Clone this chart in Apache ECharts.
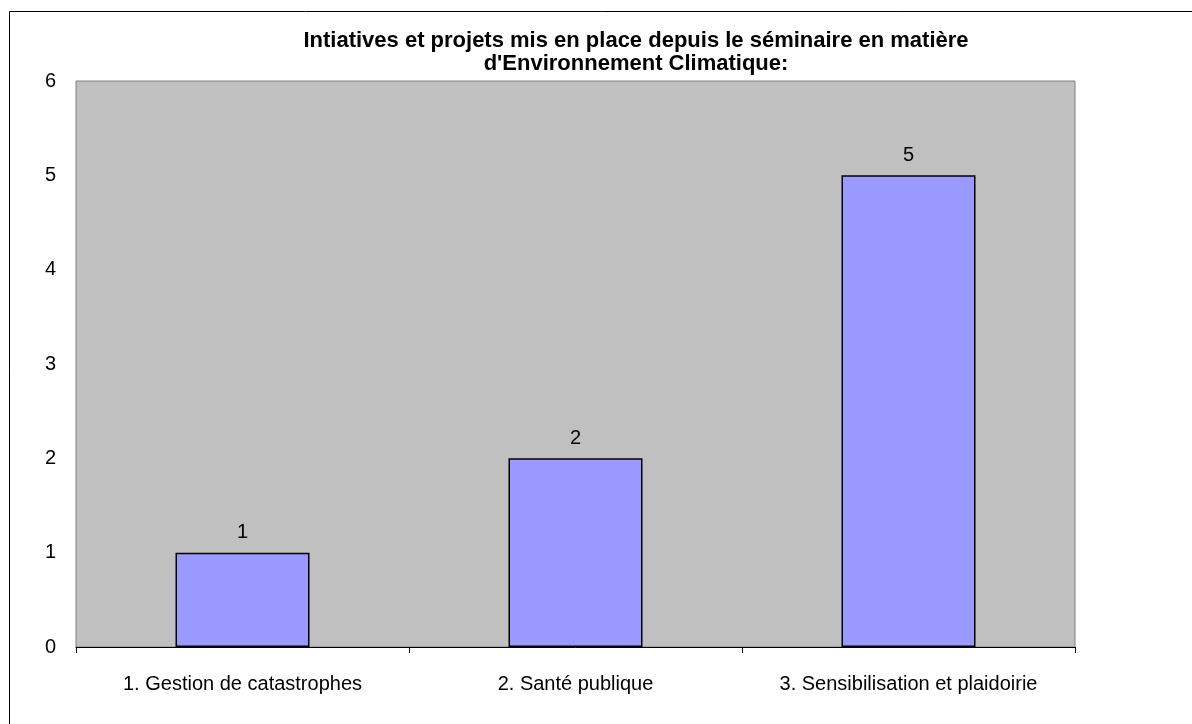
<!DOCTYPE html>
<html>
<head>
<meta charset="utf-8">
<script src="https://cdn.jsdelivr.net/npm/echarts@6/dist/echarts.min.js"></script>
<style>html,body{margin:0;padding:0;background:#fff;}#c{width:1192px;height:724px;}</style>
</head>
<body>
<div id="c"></div>
<script>
const categories = ['1. Gestion de catastrophes', '2. Santé publique', '3. Sensibilisation et plaidoirie'];
const values = [1, 2, 5];
const titleLines = ['Intiatives et projets mis en place depuis le séminaire en matière', "d'Environnement Climatique:"];

const chart = echarts.init(document.getElementById('c'), null, {renderer: 'canvas'});
const font = 'Liberation Sans, Arial, sans-serif';
chart.setOption({
  animation: false,
  backgroundColor: '#ffffff',
  title: {
    text: titleLines.join('\n'),
    left: 631, top: 24, textAlign: 'center',
    textStyle: {fontFamily: font, fontSize: 22, fontWeight: 'bold', color: '#000', lineHeight: 23}
  },
  graphic: [{
    type: 'rect', shape: {x: 9.5, y: 11.5, width: 1300, height: 900},
    style: {fill: 'none', stroke: '#000', lineWidth: 1}, z: 100
  }],
  grid: {left: 76, right: 117, top: 81, bottom: 77, show: true, backgroundColor: '#c0c0c0', borderColor: '#808080', borderWidth: 1},
  xAxis: {
    type: 'category', data: categories,
    axisLine: {lineStyle: {color: '#000', width: 1}},
    axisTick: {show: true, length: 6, lineStyle: {color: '#000'}},
    axisLabel: {fontFamily: font, fontSize: 20, color: '#000', margin: 27, interval: 0}
  },
  yAxis: {
    type: 'value', min: 0, max: 6, interval: 1,
    axisLine: {show: false}, axisTick: {show: false},
    splitLine: {show: false},
    axisLabel: {fontFamily: font, fontSize: 20, color: '#000', margin: 20}
  },
  series: [{
    type: 'bar', data: values, barWidth: 134,
    itemStyle: {color: '#9999ff', borderColor: '#000', borderWidth: 1.5},
    label: {show: true, position: 'top', distance: 10, fontFamily: font, fontSize: 20, color: '#000'}
  }]
});
</script>
</body>
</html>
